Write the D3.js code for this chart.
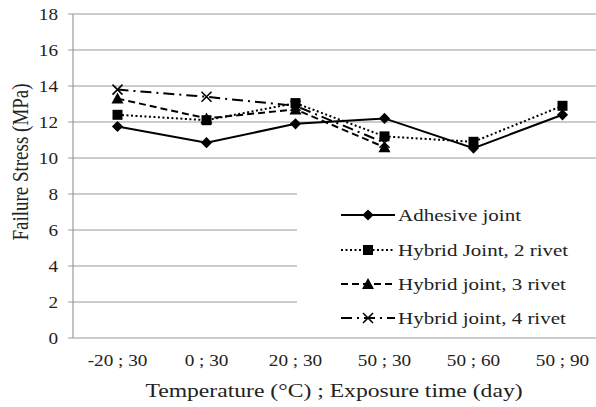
<!DOCTYPE html>
<html>
<head>
<meta charset="utf-8">
<script src="https://cdn.jsdelivr.net/npm/d3@7"></script>
<style>
  body { margin: 0; background: #fff; }
  text { font-family: "Liberation Serif", "Times New Roman", serif; fill: #222; }
</style>
</head>
<body>
<div id="chart"></div>
<script>
var categories = ['-20 ; 30', '0 ; 30', '20 ; 30', '50 ; 30', '50 ; 60', '50 ; 90'];
var adhesive = [11.75, 10.85, 11.9, 12.2, 10.55, 12.4];
var rivet2 = [12.4, 12.1, 13.05, 11.2, 10.9, 12.9];
var rivet3 = [13.3, 12.2, 12.7, 10.6];
var rivet4 = [13.8, 13.4, 12.9, 10.85];
var seriesNames = ['Adhesive joint', 'Hybrid Joint, 2 rivet', 'Hybrid joint, 3 rivet', 'Hybrid joint, 4 rivet'];
var yTicks = [0, 2, 4, 6, 8, 10, 12, 14, 16, 18];

var W = 596, H = 407;
var plotL = 73, plotR = 607, plotT = 14, plotB = 338;
var sx = 1.2; // the picture's text is stretched sideways

var svg = d3.select('#chart').append('svg')
  .attr('width', W)
  .attr('height', H);

var x = d3.scaleBand().domain(categories).range([plotL, plotR]);
var y = d3.scaleLinear().domain([0, 18]).range([plotB, plotT]);

// gridlines (with short tick stubs to the left of the axis)
svg.append('g').selectAll('line')
  .data(yTicks)
  .enter().append('line')
  .attr('x1', plotL - 5)
  .attr('x2', plotR)
  .attr('y1', function (d) { return y(d); })
  .attr('y2', function (d) { return y(d); })
  .attr('stroke', '#9a9a9a')
  .attr('stroke-width', 1.2);

svg.append('line')
  .attr('x1', plotL).attr('x2', plotL)
  .attr('y1', plotT).attr('y2', plotB)
  .attr('stroke', '#9a9a9a')
  .attr('stroke-width', 1.2);

// legend box hides the grid behind it
svg.append('rect')
  .attr('x', 297).attr('y', 177)
  .attr('width', 310).attr('height', plotB - 177 - 1)
  .attr('fill', '#fff');

function label(px, py, txt, size, anchor) {
  return svg.append('text')
    .attr('transform', 'translate(' + px + ',' + py + ') scale(' + sx + ',1)')
    .attr('text-anchor', anchor)
    .style('font-size', size + 'px')
    .text(txt);
}

// y tick labels
yTicks.forEach(function (d) {
  label(58, y(d), d, 16, 'end').attr('dy', '0.35em');
});

// x tick labels
categories.forEach(function (d) {
  label(x(d) + x.bandwidth() / 2, 366, d, 16, 'middle');
});

label(334, 397, 'Temperature (°C) ; Exposure time (day)', 19.7, 'middle');

svg.append('text')
  .attr('transform', 'translate(28,162) rotate(-90) scale(1,' + sx + ')')
  .attr('text-anchor', 'middle')
  .style('font-size', '19px')
  .text('Failure Stress (MPa)');

var dashes = ['none', '2,2.5', '7,4', '11,5,2,5'];
var markers = ['diamond', 'square', 'triangle', 'cross'];
var allSeries = [adhesive, rivet2, rivet3, rivet4];

function drawMarker(g, type, cx, cy) {
  if (type === 'diamond') {
    g.append('path').attr('d', d3.symbol().type(d3.symbolDiamond2).size(80)())
      .attr('transform', 'translate(' + cx + ',' + cy + ')')
      .attr('fill', '#000');
  } else if (type === 'square') {
    g.append('rect').attr('x', cx - 5).attr('y', cy - 5)
      .attr('width', 10).attr('height', 10).attr('fill', '#000');
  } else if (type === 'triangle') {
    g.append('path').attr('d', 'M' + cx + ',' + (cy - 6) + 'L' + (cx + 6) + ',' + (cy + 5) + 'L' + (cx - 6) + ',' + (cy + 5) + 'Z')
      .attr('fill', '#000');
  } else {
    g.append('path').attr('d', 'M' + (cx - 5) + ',' + (cy - 5) + 'L' + (cx + 5) + ',' + (cy + 5) + 'M' + (cx - 5) + ',' + (cy + 5) + 'L' + (cx + 5) + ',' + (cy - 5))
      .attr('stroke', '#000').attr('stroke-width', 1.6).attr('fill', 'none');
  }
}

var line = d3.line()
  .x(function (d, i) { return x(categories[i]) + x.bandwidth() / 2; })
  .y(function (d) { return y(d); });

allSeries.forEach(function (vals, s) {
  var g = svg.append('g');
  g.append('path')
    .attr('d', line(vals))
    .attr('fill', 'none')
    .attr('stroke', '#000')
    .attr('stroke-width', 2)
    .attr('stroke-dasharray', dashes[s]);
  vals.forEach(function (v, i) {
    drawMarker(g, markers[s], x(categories[i]) + x.bandwidth() / 2, y(v));
  });
});

// legend
var legY = [215, 250, 284, 318];
seriesNames.forEach(function (name, s) {
  var g = svg.append('g');
  g.append('line')
    .attr('x1', 341).attr('x2', 395)
    .attr('y1', legY[s]).attr('y2', legY[s])
    .attr('stroke', '#000')
    .attr('stroke-width', 2)
    .attr('stroke-dasharray', dashes[s]);
  drawMarker(g, markers[s], 368, legY[s]);
  label(398, legY[s], name, 17.5, 'start').attr('dy', '0.35em');
});
</script>
</body>
</html>
